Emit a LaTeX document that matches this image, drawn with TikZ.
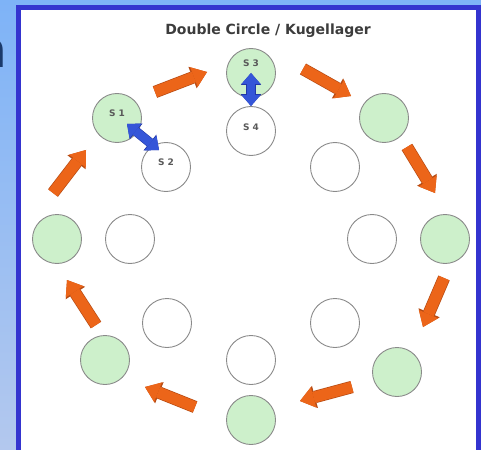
\documentclass[tikz,border=0pt]{standalone}
\usepackage{fontspec}
\setmainfont{DejaVu Sans}
\usetikzlibrary{arrows.meta,calc}
\definecolor{ringgreen}{HTML}{CDF0CB}
\definecolor{ringgrey}{HTML}{8A8A8A}
\definecolor{moveorange}{HTML}{EC6519}
\definecolor{moveedge}{HTML}{B84C14}
\definecolor{swapblue}{HTML}{3556D8}
\definecolor{swapedge}{HTML}{2238A8}
\definecolor{framebar}{HTML}{3434CF}
\definecolor{skytop}{HTML}{7EB3F7}
\definecolor{skybottom}{HTML}{B3C8EE}
\definecolor{titleink}{HTML}{3C3C3C}
\definecolor{slideink}{HTML}{1B3A6B}
\tikzset{
  seat/.style={circle,draw=ringgrey,line width=0.9pt,minimum size=49pt,inner sep=0pt},
  outer/.style={seat,fill=ringgreen},
  inner/.style={seat,fill=white},
  tag/.style={font=\bfseries\fontsize{9}{9}\selectfont,text=black!65,yshift=5pt},
  move/.style={line width=11pt,draw=moveorange,-{Triangle[length=14pt,width=21pt,line width=0pt]},
    preaction={draw=moveedge,line width=12.4pt,-{Triangle[length=15.5pt,width=23pt,line width=0pt]}}},
  swap/.style={line width=8.5pt,draw=swapblue,
    {Triangle[length=11pt,width=19pt,line width=0pt]}-{Triangle[length=11pt,width=19pt,line width=0pt]},
    preaction={draw=swapedge,line width=9.6pt,
    {Triangle[length=11.8pt,width=20.4pt,line width=0pt]}-{Triangle[length=11.8pt,width=20.4pt,line width=0pt]}}}
}
\begin{document}
\begin{tikzpicture}[x=1pt,y=-1pt]
  \useasboundingbox (0,0) rectangle (481,449);
  % slide behind the picture
  \fill[top color=skytop,bottom color=skybottom] (0,0) rectangle (481,449);
  \node[anchor=base east,inner sep=0pt,text=slideink,font=\bfseries\fontsize{50}{50}\selectfont] (slide) at (7,68) {n};
  \fill[white] (18.5,7.5) rectangle (478.5,460);
  \draw[framebar,line width=5pt] (18.5,7.5) rectangle (478.5,460);

  \node[font=\bfseries\fontsize{14}{14}\selectfont,text=titleink] (title) at (268,31) {Double Circle / Kugellager};

  % outer circle
  \node[outer,label={[tag,yshift=5pt]center:S 3}] (s3) at (251,73) {};
  \node[outer] (otr) at (384,118) {};
  \node[outer] (or) at (445,239) {};
  \node[outer] (olr) at (397,372) {};
  \node[outer] (ob) at (251,420) {};
  \node[outer] (oll) at (105,360) {};
  \node[outer] (ol) at (57,239) {};
  \node[outer,label={[tag]center:S 1}] (s1) at (117,118) {};

  % inner circle
  \node[inner,label={[tag,yshift=-1pt]center:S 4}] (s4) at (251,131) {};
  \node[inner] (itr) at (335,167) {};
  \node[inner] (ir) at (372,239) {};
  \node[inner] (ilr) at (335,323) {};
  \node[inner] (ib) at (251,360) {};
  \node[inner] (ill) at (167,323) {};
  \node[inner] (il) at (130,239) {};
  \node[inner,label={[tag]center:S 2}] (s2) at (166,167) {};

  % rotation of the outer circle
  \coordinate (m1-a) at (155,92);  \coordinate (m1-b) at (207,72);
  \coordinate (m2-a) at (303,69);  \coordinate (m2-b) at (351,96);
  \coordinate (m3-a) at (407,147); \coordinate (m3-b) at (435,193);
  \coordinate (m4-a) at (444,278); \coordinate (m4-b) at (423,327);
  \coordinate (m5-a) at (352,387); \coordinate (m5-b) at (300,401);
  \coordinate (m6-a) at (195,407); \coordinate (m6-b) at (145,387);
  \coordinate (m7-a) at (96,325);  \coordinate (m7-b) at (67,280);
  \coordinate (m8-a) at (53,193);  \coordinate (m8-b) at (86,150);
  \foreach \i in {1,...,8}
    \draw[move] (m\i-a) -- (m\i-b);

  % partners
  \draw[swap] ($(s1)+(10,6)$) -- ($(s2)+(-7,-17)$);
  \draw[swap] (s3.center) -- (s4.north);
\end{tikzpicture}
\end{document}
